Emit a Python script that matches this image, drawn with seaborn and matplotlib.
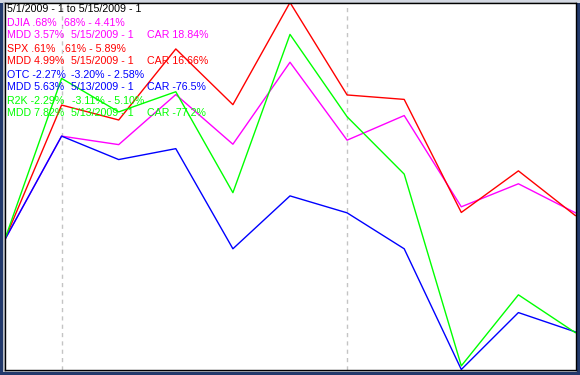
import matplotlib
matplotlib.use("Agg")
import matplotlib.pyplot as plt
import seaborn as sns
import pandas as pd
from matplotlib.patches import Rectangle

days = ["5/1", "5/4", "5/5", "5/6", "5/7", "5/8", "5/11", "5/12", "5/13", "5/14", "5/15"]
djia = [0, 2.58, 2.37, 3.61, 2.38, 4.41, 2.48, 3.09, 0.83, 1.40, 0.68]
spx = [0, 3.35, 2.98, 4.74, 3.36, 5.89, 3.60, 3.49, 0.69, 1.72, 0.61]
otc = [0, 2.58, 2.00, 2.27, -0.21, 1.10, 0.68, -0.21, -3.20, -1.79, -2.27]
r2k = [0, 4.01, 3.18, 3.68, 1.18, 5.10, 3.06, 1.64, -3.11, -1.35, -2.29]
week_starts = ["5/4", "5/11"]

series = {"DJIA": djia, "SPX": spx, "OTC": otc, "R2K": r2k}
colors = {"DJIA": "#ff00ff", "SPX": "#ff0000", "OTC": "#0000ff", "R2K": "#00ff00"}

rows = []
for name, vals in series.items():
    for i, v in enumerate(vals):
        rows.append({"idx": i, "day": days[i], "pct": v, "index": name})
df = pd.DataFrame(rows)

legend_lines = [
    [("5/1/2009 - 1 to 5/15/2009 - 1", 7)],
    [("DJIA .68%", 7), (".68% - 4.41%", 61)],
    [("MDD 3.57%", 7), ("5/15/2009 - 1", 71), ("CAR 18.84%", 147)],
    [("SPX .61%", 7), (".61% - 5.89%", 62)],
    [("MDD 4.99%", 7), ("5/15/2009 - 1", 71), ("CAR 16.66%", 147)],
    [("OTC -2.27%", 7), ("-3.20% - 2.58%", 71)],
    [("MDD 5.63%", 7), ("5/13/2009 - 1", 71), ("CAR -76.5%", 147)],
    [("R2K -2.29%", 7), ("-3.11% - 5.10%", 72)],
    [("MDD 7.82%", 7), ("5/13/2009 - 1", 71), ("CAR -77.2%", 147)],
]
legend_colors = ["#000000", "#ff00ff", "#ff00ff", "#ff0000", "#ff0000",
                 "#0000ff", "#0000ff", "#00ff00", "#00ff00"]

sns.set_style("white")
plt.rcParams["font.family"] = ["Liberation Sans", "DejaVu Sans"]

W, H = 580, 375
fig = plt.figure(figsize=(W / 100, H / 100), dpi=100, facecolor="#22396b")
# window-like frame
fig.patches.append(Rectangle((0, (H - 2.5) / H), 1, 2.5 / H, transform=fig.transFigure,
                             facecolor="#d3d8e2", edgecolor="none", zorder=-2))
fig.patches.append(Rectangle((3 / W, (H - 372) / H), (577 - 3) / W, (372 - 2) / H,
                             transform=fig.transFigure, facecolor="#b8bcc4",
                             edgecolor="none", zorder=-1))

ax = fig.add_axes([4.5 / W, (H - 369.5) / H, (575.5 - 4.5) / W, (369.5 - 2.5) / H])
ax.set_zorder(1)
ax.set_facecolor("white")

for d in week_starts:
    ax.axvline(days.index(d), color="#c4c4c4", lw=1.0, ls=(0, (3, 3)), zorder=1)

sns.lineplot(data=df, x="idx", y="pct", hue="index", palette=colors,
             hue_order=["DJIA", "SPX", "OTC", "R2K"], lw=1.0, ax=ax,
             legend=False, zorder=2)

ax.set_xlim(0, len(days) - 1)
ax.set_ylim(min(otc), max(spx))
ax.set_xticks([])
ax.set_yticks([])
ax.set_xlabel("")
ax.set_ylabel("")
for s in ax.spines.values():
    s.set_color("#000000")
    s.set_linewidth(1.0)

for r, (segs, col) in enumerate(zip(legend_lines, legend_colors)):
    y = 9.5 + 13 * r
    for txt, x in segs:
        fig.text(x / W, (H - y) / H, txt, color=col, fontsize=7.7,
                 va="center", ha="left", zorder=5)

fig.savefig("out.png", dpi=100, facecolor=fig.get_facecolor())
